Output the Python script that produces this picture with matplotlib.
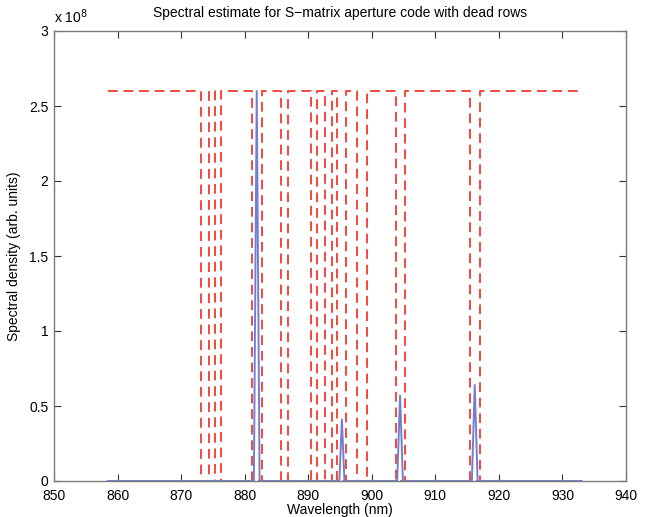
import matplotlib
matplotlib.use("Agg")
import matplotlib.pyplot as plt
from matplotlib.ticker import FuncFormatter

# Aperture code outline (red dashed): transition wavelengths, starting high
code_start = 858.5
code_end = 933.3
code_level = 2.6e8
code_edges = [873.2, 874.4, 875.3, 876.2, 881.2, 882.7, 885.7, 886.8,
              890.4, 891.4, 892.6, 893.7, 894.5, 895.9, 897.7, 899.2,
              903.8, 905.3, 915.5, 917.0]

# Spectral estimate (blue): sampled points
spec_wl = [858.5, 881.45, 881.9, 882.35, 894.9, 895.3,
           895.7, 904.0, 904.45, 904.9, 915.75, 916.2, 916.65, 933.0]
spec_val = [0.0, 0.0, 2.6e8, 0.0, 0.0, 0.41e8,
            0.0, 0.0, 0.57e8, 0.0, 0.0, 0.64e8, 0.0, 0.0]

xticks = [850, 860, 870, 880, 890, 900, 910, 920, 930, 940]
yticks = [0, 0.5e8, 1.0e8, 1.5e8, 2.0e8, 2.5e8, 3.0e8]

plt.rcParams['font.family'] = ['Liberation Sans', 'DejaVu Sans']

fig = plt.figure(figsize=(6.49, 5.17), dpi=100)
ax = fig.add_axes([54/649, 1-481/517, (626-54)/649, (481-31)/517])

# build square-wave outline
xs = [code_start]
ys = [code_level]
level = code_level
for e in code_edges:
    xs.append(e); ys.append(level)
    level = 0.0 if level > 0 else code_level
    xs.append(e); ys.append(level)
xs.append(code_end); ys.append(level)

ax.plot(xs, ys, color='#f3473b', lw=1.4, dashes=(5, 3), zorder=2)
ax.plot(spec_wl, spec_val, color='#6f80d2', lw=1.4, zorder=3)

ax.set_xlim(850, 940)
ax.set_ylim(0, 3e8)
ax.set_xticks(xticks)
ax.set_yticks(yticks)
ax.yaxis.set_major_formatter(FuncFormatter(lambda v, p: ('%g' % (v/1e8))))
ax.tick_params(direction='in', top=True, right=True, labelsize=10,
               length=5, color='#333333', width=0.8, pad=4)
ax.tick_params(axis='x', pad=6)
for s in ax.spines.values():
    s.set_color('#7a7a7a')
    s.set_linewidth(1.0)
    s.set_zorder(4)

ax.set_title('Spectral estimate for S\u2212matrix aperture code with dead rows',
             fontsize=10, pad=10)
ax.set_xlabel('Wavelength (nm)', fontsize=10, labelpad=0)
ax.set_ylabel('Spectral density (arb. units)', fontsize=10, labelpad=6)
ax.text(0.0, 1.012, r'x 10$^{8}$', transform=ax.transAxes, fontsize=10,
        ha='left', va='bottom')

fig.savefig('out.png', dpi=100)
